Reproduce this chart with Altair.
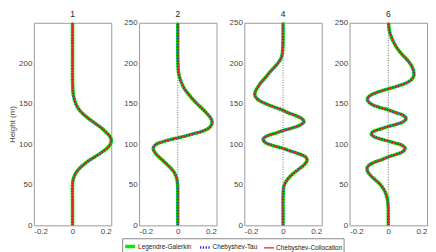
import altair as alt
import pandas as pd

methods = ["Legendre-Galerkin", "Chebyshev-Tau", "Chebyshev-Collocation"]
method_colors = ["#00ee00", "#1a1aff", "#e82020"]
method_dash = [[1, 0], [1.2, 1.6], [1, 0]]
method_width = [3.6, 1.3, 1.0]
draw_order = ["Legendre-Galerkin", "Chebyshev-Tau", "Chebyshev-Collocation"]

panel_titles = ["1", "2", "4", "6"]

heights_1 = [0, 25, 50, 55, 60, 65, 70, 75, 80, 85, 90, 95, 100, 105, 110, 115, 120,
             125, 130, 135, 140, 145, 150, 155, 160, 165, 170, 180, 200, 225, 250]
values_1 = [0, 0, 0, 0.002, 0.008, 0.018, 0.035, 0.058, 0.085, 0.118, 0.150, 0.177, 0.195,
            0.200, 0.192, 0.172, 0.150, 0.122, 0.093, 0.066, 0.044, 0.028, 0.017, 0.010,
            0.005, 0.002, 0.001, 0, 0, 0, 0]

heights_2 = [0, 25, 45, 50, 55, 60, 65, 70, 75, 80, 85, 90, 95, 100, 103, 106, 108, 110,
             113, 116, 120, 124, 128, 132, 136, 140, 145, 150, 155, 160, 165, 170, 175,
             180, 185, 190, 200, 210, 230, 250]
values_2 = [0, 0, 0, -0.001, -0.003, -0.008, -0.018, -0.034, -0.055, -0.077, -0.100,
            -0.118, -0.127, -0.112, -0.080, -0.035, 0, 0.035, 0.080, 0.125, 0.160, 0.174,
            0.177, 0.171, 0.158, 0.143, 0.122, 0.100, 0.080, 0.062, 0.045, 0.031, 0.021,
            0.013, 0.007, 0.003, 0.001, 0, 0, 0]

heights_4 = [0, 20, 35, 40, 45, 50, 55, 60, 65, 70, 75, 80, 84, 88, 92, 95, 98, 102, 106,
             110, 114, 117, 120, 124, 128, 132, 136, 139, 142, 146, 150, 155, 160, 165,
             170, 175, 180, 185, 190, 195, 200, 205, 210, 220, 230, 250]
values_4 = [0, 0, 0, 0.001, 0.002, 0.007, 0.018, 0.035, 0.058, 0.085, 0.110, 0.124, 0.118,
            0.085, 0.035, 0, -0.045, -0.090, -0.103, -0.085, -0.035, 0, 0.045, 0.090,
            0.108, 0.095, 0.060, 0.025, 0, -0.045, -0.088, -0.128, -0.145, -0.143, -0.132,
            -0.118, -0.100, -0.082, -0.065, -0.045, -0.027, -0.013, -0.005, -0.001, 0, 0]

heights_6 = [0, 20, 25, 30, 35, 40, 45, 50, 55, 60, 65, 70, 74, 78, 81, 84.5, 88, 91, 95,
             99, 102, 104, 107, 110, 113, 116, 119, 122, 125, 128, 132, 136, 139, 142.5,
             146, 150, 155, 159, 163, 166, 168.5, 172, 176, 180, 185, 190, 195, 200, 205,
             210, 215, 220, 225, 230, 235, 240, 245, 250]
values_6 = [0, 0, -0.001, -0.003, -0.007, -0.014, -0.025, -0.040, -0.062, -0.085, -0.103,
            -0.110, -0.100, -0.070, -0.035, 0, 0.045, 0.075, 0.087, 0.070, 0.030, 0,
            -0.045, -0.078, -0.088, -0.075, -0.040, 0, 0.045, 0.078, 0.092, 0.075, 0.040,
            0, -0.050, -0.090, -0.108, -0.100, -0.070, -0.035, 0, 0.050, 0.095, 0.120,
            0.132, 0.131, 0.124, 0.112, 0.095, 0.075, 0.057, 0.042, 0.030, 0.020, 0.012,
            0.006, 0.003, 0.001]

panel_heights = [heights_1, heights_2, heights_4, heights_6]
panel_values = [values_1, values_2, values_4, values_6]
show_zero_line = [False, True, True, True]

x_ticks = [-0.2, 0, 0.2]
W, H = 78, 204
FONT = "Liberation Sans"

label_expr = "datum.value == 0 ? '0' : (datum.value < 0 ? '-' : '') + format(abs(datum.value), '.1f')"


def make_panel(idx):
    h = panel_heights[idx]
    v = panel_values[idx]
    rows = []
    for m in methods:
        for hh, vv in zip(h, v):
            rows.append({"height": hh, "value": vv, "method": m})
    df = pd.DataFrame(rows)

    y_vals = [0, 50, 100, 150, 200] if idx == 0 else [0, 50, 100, 150, 200, 250]
    if idx == 0:
        y_axis = alt.Axis(values=y_vals, title="Height (m)")
    else:
        y_axis = alt.Axis(values=y_vals, title=None)
    x_axis = alt.Axis(values=x_ticks, title=None, labelExpr=label_expr)
    x_scale = alt.Scale(domain=[-0.2, 0.2], nice=False, zero=False)

    base = alt.Chart(df).encode(
        x=alt.X("value:Q", scale=x_scale, axis=x_axis),
        y=alt.Y("height:Q", scale=alt.Scale(domain=[0, 250], nice=False), axis=y_axis),
        order=alt.Order("height:Q"),
        color=alt.Color("method:N", scale=alt.Scale(domain=methods, range=method_colors),
                        legend=alt.Legend(title=None)),
        strokeDash=alt.StrokeDash("method:N", scale=alt.Scale(domain=methods, range=method_dash),
                                  legend=alt.Legend(title=None)),
        strokeWidth=alt.StrokeWidth("method:N", scale=alt.Scale(domain=methods, range=method_width),
                                    legend=alt.Legend(title=None)),
    )
    layers = []
    if show_zero_line[idx]:
        zero_df = pd.DataFrame({"value": [0]})
        layers.append(
            alt.Chart(zero_df).mark_rule(color="#333333", strokeDash=[1, 1.5], strokeWidth=0.7)
            .encode(x=alt.X("value:Q", scale=x_scale, axis=x_axis))
        )
    for m in draw_order:
        layers.append(
            base.transform_filter(alt.datum.method == m).mark_line(interpolate="catmull-rom")
        )
    return alt.layer(*layers).properties(
        width=W, height=H, title=alt.TitleParams(panel_titles[idx], dy=7)
    )


chart = alt.hconcat(*[make_panel(i) for i in range(4)], spacing=28, bounds="flush").properties(
    padding={"left": 0, "top": 0, "right": 0, "bottom": 0}
).resolve_scale(color="shared", strokeDash="shared", strokeWidth="shared").configure_view(
    stroke="#9a9a9a", strokeWidth=1
).configure_axis(
    grid=False, domain=False, ticks=False, labelFontSize=8, labelColor="#444444", labelFont=FONT,
    titleFont=FONT, titleFontSize=8, titleFontWeight="normal", titleColor="#444444",
    labelPadding=2, titlePadding=2
).configure_title(
    fontSize=8.5, fontWeight="normal", font=FONT, color="#222222", offset=0
).configure_legend(
    orient="none", legendX=89, legendY=H + 13, direction="horizontal",
    strokeColor="#888888", fillColor="white", padding=1, labelFontSize=6.5, labelFont=FONT,
    labelColor="#222222", symbolType="stroke", symbolSize=100, columnPadding=3, labelOffset=1,
    rowPadding=0, labelLimit=200, labelBaseline="middle"
)

chart.save("out.html", embed_options={"renderer": "svg", "actions": False})
